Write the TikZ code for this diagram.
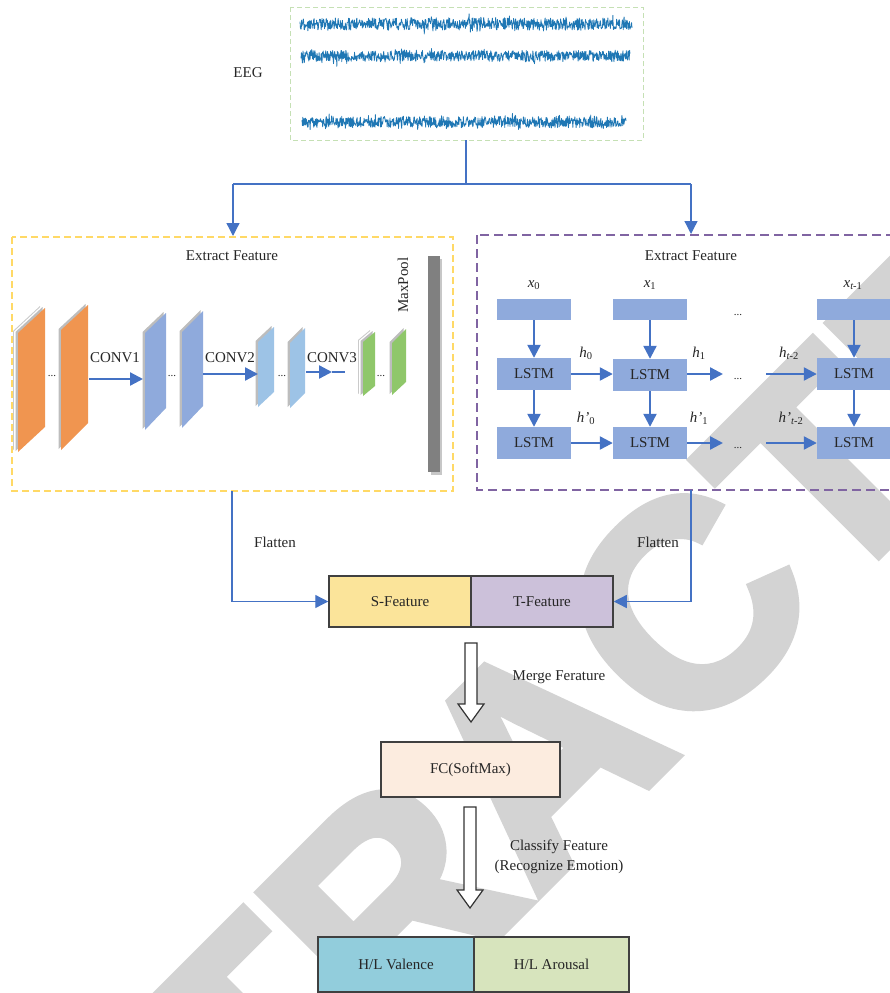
\documentclass[tikz,border=0pt]{standalone}
\usepackage{fontspec}
\setmainfont{Liberation Serif}
\newfontfamily\wmfont{Liberation Sans}[BoldFeatures={FakeBold=3}]
\usetikzlibrary{arrows.meta,calc}
\definecolor{cblue}{HTML}{4472C4}
\definecolor{eegblue}{HTML}{1F77B4}
\definecolor{wmgrey}{RGB}{211,211,211}
\definecolor{orangemap}{HTML}{F09550}
\definecolor{bluemap}{HTML}{8FAADC}
\definecolor{lbluemap}{HTML}{9DC3E6}
\definecolor{greenmap}{HTML}{8FC76A}
\definecolor{mapgrey}{HTML}{BDBDBD}
\definecolor{lstmblue}{HTML}{8FAADC}
\definecolor{sfeat}{HTML}{FBE49A}
\definecolor{tfeat}{HTML}{CCC1DA}
\definecolor{fcfill}{HTML}{FCECDF}
\definecolor{valfill}{HTML}{92CDDC}
\definecolor{arofill}{HTML}{D7E4BD}
\definecolor{eegbox}{HTML}{C5E0B4}
\definecolor{cnnbox}{HTML}{FFD966}
\definecolor{rnnbox}{HTML}{8064A2}
\definecolor{txt}{HTML}{262626}
\newcommand\featmap[7]{%
  \fill[mapgrey] (#1-2.5,#2-1) -- (#4-2.5,#5-1) -- (#4-2.5,#6-1) -- (#1-2.5,#3-1) -- cycle;
  \fill[#7] (#1,#2) -- (#4,#5) -- (#4,#6) -- (#1,#3) -- cycle;}
\newcommand\featmapstack[7]{%
  \fill[mapgrey!80] (#1-5,#2-2) -- (#4-5,#5-2) -- (#4-5,#6-2) -- (#1-5,#3-2) -- cycle;
  \fill[white] (#1-4,#2-1.5) -- (#4-4,#5-1.5) -- (#4-4,#6-1.5) -- (#1-4,#3-1.5) -- cycle;
  \featmap{#1}{#2}{#3}{#4}{#5}{#6}{#7}}
\tikzset{
  base/.style={font=\fontsize{15}{18}\selectfont, text=txt},
  lbl/.style={inner sep=0pt, text=txt},
  dots/.style={inner sep=0pt, anchor=base, font=\fontsize{11}{13}\selectfont, text=txt},
  arr/.style={draw=cblue, line width=2.3pt, -{Triangle[length=13pt,width=13pt]}},
  thinarr/.style={draw=cblue, line width=1.3pt, -{Triangle[length=13pt,width=13pt]}},
  tree/.style={draw=cblue, line width=1.3pt},
  lbox/.style={fill=lstmblue, minimum width=74pt, minimum height=32pt, inner sep=0pt, text=txt},
  inbox/.style={fill=lstmblue, minimum width=74pt, minimum height=21pt, inner sep=0pt},
  featbox/.style={draw=black!75, line width=1.5pt, minimum height=51pt, inner sep=0pt, text=txt},
  hollow/.style={fill=white, draw=black!80, line width=1.2pt, line join=miter},
  eeg/.style={draw=eegblue, line width=0.8pt, line join=round}
}
\begin{document}
\begin{tikzpicture}[x=1pt,y=-1pt,base]
\useasboundingbox (0,0) rectangle (890,993);
\clip (0,0) rectangle (890,993);
% watermark
\node[rotate=45, anchor=base west, inner sep=0pt, text=wmgrey,
      font=\wmfont\bfseries\fontsize{290}{290}\selectfont] (wm) at (-23.5,1457.5) {RETRACTED};

% EEG
\node[lbl] (eeglbl) at (248,73) {EEG};
\draw[eeg] plot[domain=300:632, samples=800] (\x,{24+6*rand+9*rand*rand*rand*rand});
\draw[eeg] plot[domain=301:630, samples=800] (\x,{56+5.5*rand+9*rand*rand*rand*rand});
\draw[eeg] plot[domain=302:626, samples=800] (\x,{122+5.5*rand+9*rand*rand*rand*rand});
\draw[eegbox, line width=1pt, dash pattern=on 5pt off 3pt] (290,7) rectangle (643,140);
\coordinate (eegbot) at (466,140);
\coordinate (split) at (466,184);
\coordinate (lt) at (233,184);
\coordinate (rt) at (691,184);
\coordinate (cnntop) at (233,236);
\coordinate (rnntop) at (691,234);
\draw[tree] (eegbot) -- (split);
\draw[tree] (lt) -- (rt);
\draw[thinarr] (lt) -- (cnntop);
\draw[thinarr] (rt) -- (rnntop);

% CNN box
\draw[cnnbox, line width=1.5pt, dash pattern=on 7pt off 4pt] (12,237) rectangle (453,491);
\node[lbl] (cnntitle) at (232,256) {Extract Feature};
\featmapstack{18}{333}{452}{45}{308}{427}{orangemap}
\featmap{61}{330}{450}{88}{305}{423}{orangemap}
\featmap{145}{333}{430}{166}{313}{408}{bluemap}
\featmap{182}{332}{428}{203}{311}{406}{bluemap}
\featmap{258}{342}{407}{274}{327}{392}{lbluemap}
\featmap{290}{343}{408}{305}{328}{393}{lbluemap}
\featmapstack{363}{342}{396}{375}{332}{386}{greenmap}
\featmap{392}{343}{395}{406}{329}{382}{greenmap}
\node[dots] (d1) at (52,376) {...};
\node[dots] (d2) at (172,376) {...};
\node[dots] (d3) at (282,376) {...};
\node[dots] (d4) at (381,376) {...};
\node[lbl] (c1) at (115,358) {CONV1};
\node[lbl] (c2) at (230,358) {CONV2};
\node[lbl] (c3) at (332,358) {CONV3};
\coordinate (c1a) at (89,379);
\coordinate (c1b) at (143,379);
\coordinate (c2a) at (203,374);
\coordinate (c2b) at (258,374);
\coordinate (c3a) at (306,372);
\coordinate (c3m) at (332,372);
\coordinate (c3b) at (345,372);
\draw[arr] (c1a) -- (c1b);
\draw[arr] (c2a) -- (c2b);
\draw[arr] (c3a) -- (c3m);
\draw[draw=cblue, line width=2.3pt] (c3m) -- (c3b);
\fill[mapgrey!85] (430.5,258.5) rectangle (442,474.5);
\fill[black!50] (428,256) rectangle (439.5,472);
\node[lbl, rotate=90] (mp) at (403,285) {MaxPool};

% RNN box
\draw[rnnbox, line width=1.3pt, dash pattern=on 9pt off 5pt] (477,235) rectangle (900,490);
\node[lbl] (rnntitle) at (691,256) {Extract Feature};
\node[inbox] (i1) at (534,309.5) {};
\node[inbox] (i2) at (650,309.5) {};
\node[inbox] (i3) at (854,309.5) {};
\node[lbox] (a1) at (534,374) {LSTM};
\node[lbox] (a2) at (650,375) {LSTM};
\node[lbox] (a3) at (854,374) {LSTM};
\node[lbox] (b1) at (534,443) {LSTM};
\node[lbox] (b2) at (650,443) {LSTM};
\node[lbox] (b3) at (854,443) {LSTM};
\node[lbl] (x0) at (534,285) {\itshape x\textsubscript{\upshape 0}};
\node[lbl] (x1) at (650,285) {\itshape x\textsubscript{\upshape 1}};
\node[lbl] (x2) at (853,285) {\itshape x\textsubscript{t\upshape -1}};
\node[dots] (dt) at (738,315) {...};
\node[dots] (dr1) at (738,379) {...};
\node[dots] (dr2) at (738,448) {...};
\draw[arr] (i1) -- (a1);
\draw[arr] (i2) -- (a2);
\draw[arr] (i3) -- (a3);
\draw[arr] (a1) -- (b1);
\draw[arr] (a2) -- (b2);
\draw[arr] (a3) -- (b3);
\draw[arr] (a1.east |- 0,374) -- (a2.west |- 0,374);
\coordinate (r1a) at (687,374);
\coordinate (r1b) at (723,374);
\coordinate (r1c) at (766,374);
\draw[arr] (r1a) -- (r1b);
\draw[arr] (r1c) -- (a3.west);
\draw[arr] (b1) -- (b2);
\coordinate (r2a) at (687,443);
\coordinate (r2b) at (723,443);
\coordinate (r2c) at (766,443);
\draw[arr] (r2a) -- (r2b);
\draw[arr] (r2c) -- (b3.west);
\node[lbl] (h0) at (586,353) {\itshape h\textsubscript{\upshape 0}};
\node[lbl] (h1) at (699,353) {\itshape h\textsubscript{\upshape 1}};
\node[lbl] (h2) at (789,353) {\itshape h\textsubscript{t\upshape -2}};
\node[lbl] (g0) at (586,418) {\itshape h'\textsubscript{\upshape 0}};
\node[lbl] (g1) at (699,418) {\itshape h'\textsubscript{\upshape 1}};
\node[lbl] (g2) at (791,418) {\itshape h'\textsubscript{t\upshape -2}};

% Feature merge
\node[featbox, fill=sfeat, minimum width=142pt] (sf) at (400,601.5) {S-Feature};
\node[featbox, fill=tfeat, minimum width=142pt] (tf) at (542,601.5) {T-Feature};
\coordinate (lfl) at (232,491);
\coordinate (lcorner) at (232,601.5);
\coordinate (rfl) at (691,490);
\coordinate (rcorner) at (691,601.5);
\draw[tree] (lfl) -- (lcorner);
\draw[thinarr] (lcorner) -- (sf.west);
\draw[tree] (rfl) -- (rcorner);
\draw[thinarr] (rcorner) -- (tf.east);
\node[lbl] (fl1) at (275,542) {Flatten};
\node[lbl] (fl2) at (658,542) {Flatten};

\filldraw[hollow] (465,643) -- (477,643) -- (477,704) -- (484,704) -- (471,722) -- (458,704) -- (465,704) -- cycle;
\node[lbl] (mf) at (559,677) {Merge Ferature};

\node[featbox, fill=fcfill, minimum width=179pt, minimum height=55pt] (fc) at (470.5,769.5) {FC(SoftMax)};

\filldraw[hollow] (464,807) -- (476,807) -- (476,890) -- (483,890) -- (470,908) -- (457,890) -- (464,890) -- cycle;
\node[lbl, align=center] (cf) at (559,857) {Classify Feature\\[2pt](Recognize Emotion)};

\node[featbox, fill=valfill, minimum width=156pt, minimum height=55pt] (hv) at (396,964.5) {H/L Valence};
\node[featbox, fill=arofill, minimum width=155pt, minimum height=55pt] (ha) at (551.5,964.5) {H/L Arousal};
\end{tikzpicture}
\end{document}
